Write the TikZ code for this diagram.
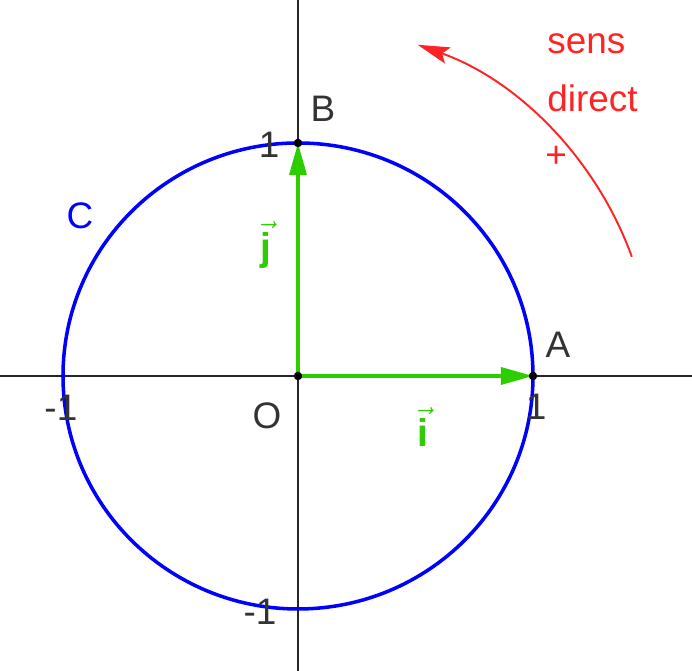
\documentclass[tikz,border=0pt]{standalone}
\usepackage{fontspec}
\setmainfont{Liberation Sans}
\usetikzlibrary{arrows.meta}
\definecolor{ucgreen}{RGB}{45,205,0}
\definecolor{ucred}{RGB}{255,35,35}
\tikzset{
  uc axis/.style={black!85,line width=1.4pt},
  uc circle/.style={draw=blue,line width=2pt},
  uc vec/.style={ucgreen,line width=1.9pt,-{Triangle[length=0.64cm,width=0.34cm]}},
  uc dot/.style={circle,fill=black,inner sep=0pt,minimum size=0.17cm},
  uc text/.style={font=\fontsize{21}{25}\selectfont,inner sep=0pt,text=black!80},
  uc vlabel/.style={font=\fontsize{22}{26}\selectfont\bfseries,inner sep=0pt,text=ucgreen},
  uc sens/.style={font=\fontsize{21}{25}\selectfont,inner sep=0pt,text=ucred}
}

\begin{document}
\begin{tikzpicture}[x=4.7cm,y=4.66cm]
  \useasboundingbox (-1.2681,-1.2661) rectangle (1.6766,1.6137);
  \coordinate (O) at (0,0);
  \coordinate (A) at (1,0);
  \coordinate (B) at (0,1);
  \coordinate (xl) at (-1.2681,0);
  \coordinate (xr) at (1.6766,0);
  \coordinate (yb) at (0,-1.2661);
  \coordinate (yt) at (0,1.6137);
  % axes and unit circle
  \draw[uc axis] (xl) -- (xr);
  \draw[uc axis] (yb) -- (yt);
  \draw[uc circle] (O) circle[radius=1];
  % basis vectors
  \draw[uc vec] (O) -- (A);
  \draw[uc vec] (O) -- (B);
  \node[uc dot] (dotO) at (O) {};
  \node[uc dot] (dotA) at (A) {};
  \node[uc dot] (dotB) at (B) {};
  % labels
  \node[uc text] (lA) at (1.106,0.133) {A};
  \node[uc text] (lB) at (0.106,1.146) {B};
  \node[uc text] (lO) at (-0.132,-0.172) {O};
  \node[uc text,text=blue] (lC) at (-0.928,0.687) {C};
  \node[uc text] (t1y) at (-0.123,0.991) {1};
  \node[uc text] (t1x) at (1.013,-0.133) {1};
  \node[uc text] (tm1x) at (-1.009,-0.137) {-1};
  \node[uc text] (tm1y) at (-0.162,-1.013) {-1};
  \node[uc vlabel] (lj) at (-0.136,0.562) {$\vec{\textbf{j}}$};
  \node[uc vlabel] (li) at (0.532,-0.219) {$\vec{\textbf{i}}$};
  % positive direction
  \coordinate (s0) at (19.8:1.51);
  \draw[ucred,line width=1.1pt,-{Stealth[length=0.64cm,width=0.34cm,inset=0.12cm]}]
    (s0) arc[start angle=19.8,end angle=70.3,radius=1.51];
  \node[uc sens,anchor=base west] (sens) at (1.06,1.386) {sens};
  \node[uc sens,anchor=base west] (direct) at (1.06,1.133) {direct};
  \node[uc sens] (plus) at (1.098,0.94) {+};
\end{tikzpicture}
\end{document}
